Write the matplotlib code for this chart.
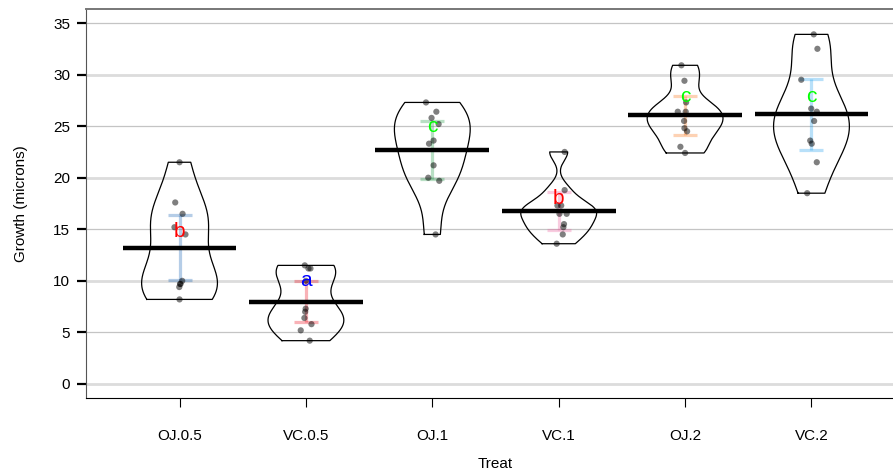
import numpy as np
import matplotlib
matplotlib.use("Agg")
import matplotlib.pyplot as plt

plt.rcParams['font.family'] = ['Liberation Sans', 'DejaVu Sans']

# ToothGrowth: length by supplement and dose
groups = ["OJ.0.5", "VC.0.5", "OJ.1", "VC.1", "OJ.2", "VC.2"]
oj_05 = [15.2, 21.5, 17.6, 9.7, 14.5, 10.0, 8.2, 9.4, 16.5, 9.7]
vc_05 = [4.2, 11.5, 7.3, 5.8, 6.4, 10.0, 11.2, 11.2, 5.2, 7.0]
oj_1 = [19.7, 23.3, 23.6, 26.4, 20.0, 25.2, 25.8, 21.2, 14.5, 27.3]
vc_1 = [16.5, 16.5, 15.2, 17.3, 22.5, 17.3, 13.6, 14.5, 18.8, 15.5]
oj_2 = [25.5, 26.4, 22.4, 24.5, 24.8, 30.9, 26.4, 27.3, 29.4, 23.0]
vc_2 = [23.6, 18.5, 33.9, 25.5, 26.4, 32.5, 26.7, 21.5, 23.3, 29.5]
values = [oj_05, vc_05, oj_1, vc_1, oj_2, vc_2]

# horizontal jitter of points
jit_oj_05 = [-0.04, 0.0, -0.034, 0.008, 0.047, 0.021, 0.0, -0.002, 0.024, 0.004]
jit_vc_05 = [0.03, -0.009, -0.002, 0.044, -0.012, 0.0, 0.02, 0.036, -0.041, -0.006]
jit_oj_1 = [0.055, -0.026, 0.01, 0.032, -0.032, 0.05, -0.006, 0.01, 0.026, -0.05]
jit_vc_1 = [0.006, 0.063, 0.037, -0.01, 0.047, 0.02, -0.016, 0.032, 0.047, 0.042]
jit_oj_2 = [-0.008, -0.058, 0.0, 0.016, -0.005, -0.029, 0.005, 0.008, -0.005, -0.037]
jit_vc_2 = [-0.01, -0.034, 0.018, 0.021, 0.042, 0.047, -0.002, 0.042, 0.002, -0.081]
jitter = [jit_oj_05, jit_vc_05, jit_oj_1, jit_vc_1, jit_oj_2, jit_vc_2]

# significance letters
letters = ["b", "a", "c", "b", "c", "c"]
letter_y = [14.8, 10.0, 25.0, 18.0, 27.9, 27.9]
letter_cols = ["#FF0000", "#0000FF", "#00FF00", "#FF0000", "#00FF00", "#00FF00"]

# yarrr "basel" palette
pal = ["#0C5BB0", "#EE0011", "#15983D", "#EC579A", "#FA6B09", "#149BED"]

t975 = 2.262157  # qt(.975, 9)


def nrd0(x):
    hi = x.std(ddof=1)
    q75, q25 = np.percentile(x, [75, 25])
    lo = min(hi, (q75 - q25) / 1.34)
    return 0.9 * lo * len(x) ** -0.2


fig = plt.figure(figsize=(8.93, 4.74), dpi=100)
ax = fig.add_axes([86 / 893, 1 - 398 / 474, 819 / 893, 389 / 474])

# grid lines
for g in range(0, 40, 5):
    if g % 10 == 0:
        ax.axhline(g, color="#dcdcdc", lw=2.0, zorder=0)
    else:
        ax.axhline(g, color="#c4c4c4", lw=0.9, zorder=0)

for i, v in enumerate(values):
    v = np.array(v)
    bw = nrd0(v)
    yy = np.linspace(v.min(), v.max(), 300)
    dens = np.exp(-0.5 * ((yy[:, None] - v[None, :]) / bw) ** 2).sum(axis=1)
    w = dens / dens.max() * 0.3
    px = np.concatenate([i - w, (i + w)[::-1], [i - w[0]]])
    py = np.concatenate([yy, yy[::-1], [yy[0]]])
    ax.plot(px, py, color="black", lw=0.9, zorder=2)

    m = v.mean()
    ci = t975 * v.std(ddof=1) / np.sqrt(len(v))
    ax.plot([i, i], [m - ci, m + ci], color=pal[i], alpha=0.3, lw=2.3, zorder=3,
            solid_capstyle="butt")
    for yc in (m - ci, m + ci):
        ax.plot([i - 0.095, i + 0.095], [yc, yc], color=pal[i], alpha=0.3, lw=2.3,
                zorder=3, solid_capstyle="butt")

    ax.scatter(i + np.array(jitter[i]), v, s=20, color="black", alpha=0.5,
               edgecolors="none", zorder=4)

    ax.plot([i - 0.45, i + 0.45], [m, m], color="black", lw=3.2, zorder=5,
            solid_capstyle="butt")

    ax.text(i, letter_y[i], letters[i], color=letter_cols[i], fontsize=15,
            ha="center", va="center", zorder=6)

ax.set_xlim(-0.74, 5.74)
ax.set_ylim(-1.36, 36.36)
ax.set_xticks(range(len(groups)))
ax.set_xticklabels(groups)
ax.set_yticks(range(0, 40, 5))
ax.tick_params(axis="x", length=6.5, width=0.8, pad=16, labelsize=11)
ax.tick_params(axis="y", length=6.5, width=0.8, pad=5, labelsize=11)
for t in ax.yaxis.get_major_ticks():
    if int(round(t.get_loc())) % 10 == 0:
        t.tick1line.set_color("#777777")
        t.tick1line.set_markeredgewidth(1.6)

ax.spines["left"].set_color("#555555")
ax.spines["top"].set_color("#777777")
ax.spines["top"].set_linewidth(1.4)
ax.spines["bottom"].set_color("black")

ax.set_xlabel("Treat", fontsize=11)
ax.set_ylabel("Growth (microns)", fontsize=11)
ax.xaxis.set_label_coords(0.5, -0.152)
ax.yaxis.set_label_coords(-0.071, 0.5)

fig.savefig("out.png", dpi=100)
